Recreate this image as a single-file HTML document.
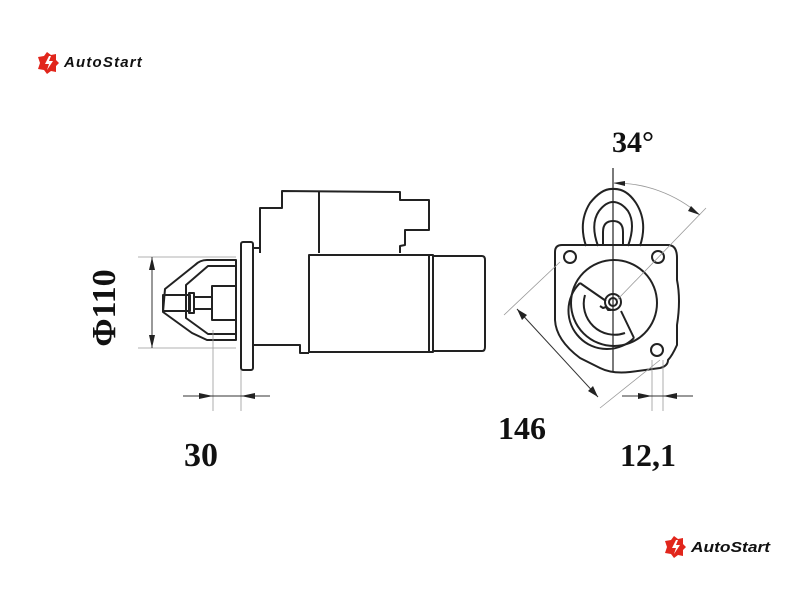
<!DOCTYPE html>
<html><head><meta charset="utf-8"><style>
html,body{margin:0;padding:0;background:#fff;width:800px;height:600px;overflow:hidden}
svg{display:block}
.l{fill:none;stroke:#222;stroke-width:2;stroke-linejoin:round}
.t{fill:none;stroke:#999;stroke-width:0.8}
.d{fill:none;stroke:#333;stroke-width:1}
.n{font-family:"Liberation Serif",serif;font-weight:bold;fill:#111}
.lg{font-family:"Liberation Sans",sans-serif;font-weight:bold;font-style:italic;fill:#111}
</style></head><body>
<svg width="800" height="600" viewBox="0 0 800 600">
<g transform="translate(38,52)">
<path d="M9 0 L13 3 L18 2 L18 8 L21 11 L18 14 L18 20 L13 19 L9 22 L6 18 L0 17 L2 11 L0 5 L6 4Z" fill="#e1261c"/>
<path d="M11 4 L7 12 L11 12 L9 18 L15 9 L11 9 L13 4Z" fill="#fff"/>
<text x="26" y="15" class="lg" font-size="15" letter-spacing="1.2" textLength="79" lengthAdjust="spacingAndGlyphs">AutoStart</text>
</g>
<g transform="translate(665,536)">
<path d="M9 0 L13 3 L18 2 L18 8 L21 11 L18 14 L18 20 L13 19 L9 22 L6 18 L0 17 L2 11 L0 5 L6 4Z" fill="#e1261c"/>
<path d="M11 4 L7 12 L11 12 L9 18 L15 9 L11 9 L13 4Z" fill="#fff"/>
<text x="26" y="16" class="lg" font-size="15" textLength="79" lengthAdjust="spacingAndGlyphs">AutoStart</text>
</g>

<path class="l" d="M260 253 L260 208 L282 208 L282 191 L400 192 L400 200 L429 200 L429 230 L405 230 L405 245 L400 246 L400 253"/>
<line class="l" x1="319" y1="192" x2="319" y2="253"/>
<rect class="l" x="241" y="242" width="12" height="128" rx="2"/>
<path class="l" d="M253 248 L260 248 M253 345 L300 345 L300 353 L309 353"/>
<rect class="l" x="309" y="255" width="124" height="97"/>
<line class="l" x1="429" y1="255" x2="429" y2="352"/>
<path class="l" d="M433 256 L482 256 Q485 256 485 260 L485 347 Q485 351 482 351 L433 351"/>
<path class="l" d="M236 260 L207 260 Q200 260 195 265 L165 289 L163 312 L192 333 L207 340 L236 340 Z"/>
<path class="l" d="M236 266 L208 266 L186 285 L186 318 L208 334 L236 334"/>
<rect class="l" x="163" y="295" width="27" height="16"/>
<rect class="l" x="189" y="293" width="5" height="20"/>
<rect class="l" x="194" y="297" width="18" height="12"/>
<rect class="l" x="212" y="286" width="24" height="34"/>
<line class="t" x1="138" y1="257" x2="236" y2="257"/>
<line class="t" x1="138" y1="348" x2="236" y2="348"/>
<line class="d" x1="152" y1="257" x2="152" y2="348"/>
<path d="M152 257 L149 270 L155 270Z M152 348 L149 335 L155 335Z" fill="#222"/>
<text class="n" font-size="34" transform="translate(115,308) rotate(-90)" text-anchor="middle">Φ110</text>
<line class="t" x1="213" y1="330" x2="213" y2="411"/>
<line class="t" x1="241" y1="370" x2="241" y2="411"/>
<line class="d" x1="183" y1="396" x2="270" y2="396"/>
<path d="M213 396 L199 393 L199 399Z M241 396 L255 393 L255 399Z" fill="#222"/>
<text class="n" font-size="34" x="201" y="466" text-anchor="middle">30</text>

<path class="l" d="M586 246 Q578 222 590 203 Q602 188 613 189 Q626 188 636 203 Q648 222 640 246"/>
<path class="l" d="M598 246 Q590 224 599 211 Q606 202 613 202 Q621 202 628 211 Q636 224 628 246"/>
<path class="l" d="M603 246 L603 232 Q603 221 613 221 Q623 221 623 232 L623 246"/>
<path class="l" d="M562 245 L668 245 Q677 245 677 258 L677 280 Q681 300 677 325 L677 345 Q672 356 668 360 Q668 366 660 368 L630 372 Q612 374 600 368 L580 358 Q556 340 555 320 L555 252 Q555 245 562 245Z"/>
<circle class="l" cx="570" cy="257" r="6"/>
<circle class="l" cx="658" cy="257" r="6"/>
<circle class="l" cx="657" cy="350" r="6"/>
<circle class="l" cx="614" cy="303" r="43"/>
<path class="l" d="M580 283 A37 37 0 0 0 634 338 M580 283 L606 301 M621 311 L634 338"/>
<path class="l" d="M585 295 A31 31 0 0 0 625 333"/>
<circle class="l" cx="613" cy="302" r="8"/>
<circle class="l" cx="613" cy="302" r="4"/>
<path class="l" d="M600 306 l3 2 l3 -1 l2 3 l3 0" stroke-width="1.5"/>
<line x1="613" y1="168" x2="613" y2="372" stroke="#222" stroke-width="1.2"/>
<path class="t" d="M613 183 A130 130 0 0 1 700 215"/>
<line class="t" x1="617" y1="300" x2="706" y2="208"/>
<path d="M613 183 L625 181 L625 186Z M700 215 L691 206 L688 211Z" fill="#222"/>
<text class="n" font-size="30" x="633" y="152" text-anchor="middle">34°</text>
<line class="t" x1="504" y1="315" x2="560" y2="262"/>
<line class="t" x1="600" y1="408" x2="660" y2="360"/>
<line class="d" x1="517" y1="309" x2="598" y2="397"/>
<path d="M517 309 L527 315 L522 320Z M598 397 L588 391 L593 386Z" fill="#222"/>
<text class="n" font-size="32" x="522" y="439" text-anchor="middle">146</text>
<line class="t" x1="652" y1="360" x2="652" y2="411"/>
<line class="t" x1="663" y1="360" x2="663" y2="411"/>
<line class="d" x1="622" y1="396" x2="693" y2="396"/>
<path d="M652 396 L638 393 L638 399Z M663 396 L677 393 L677 399Z" fill="#222"/>
<text class="n" font-size="32" x="648" y="466" text-anchor="middle">12,1</text>
</svg>
</body></html>
